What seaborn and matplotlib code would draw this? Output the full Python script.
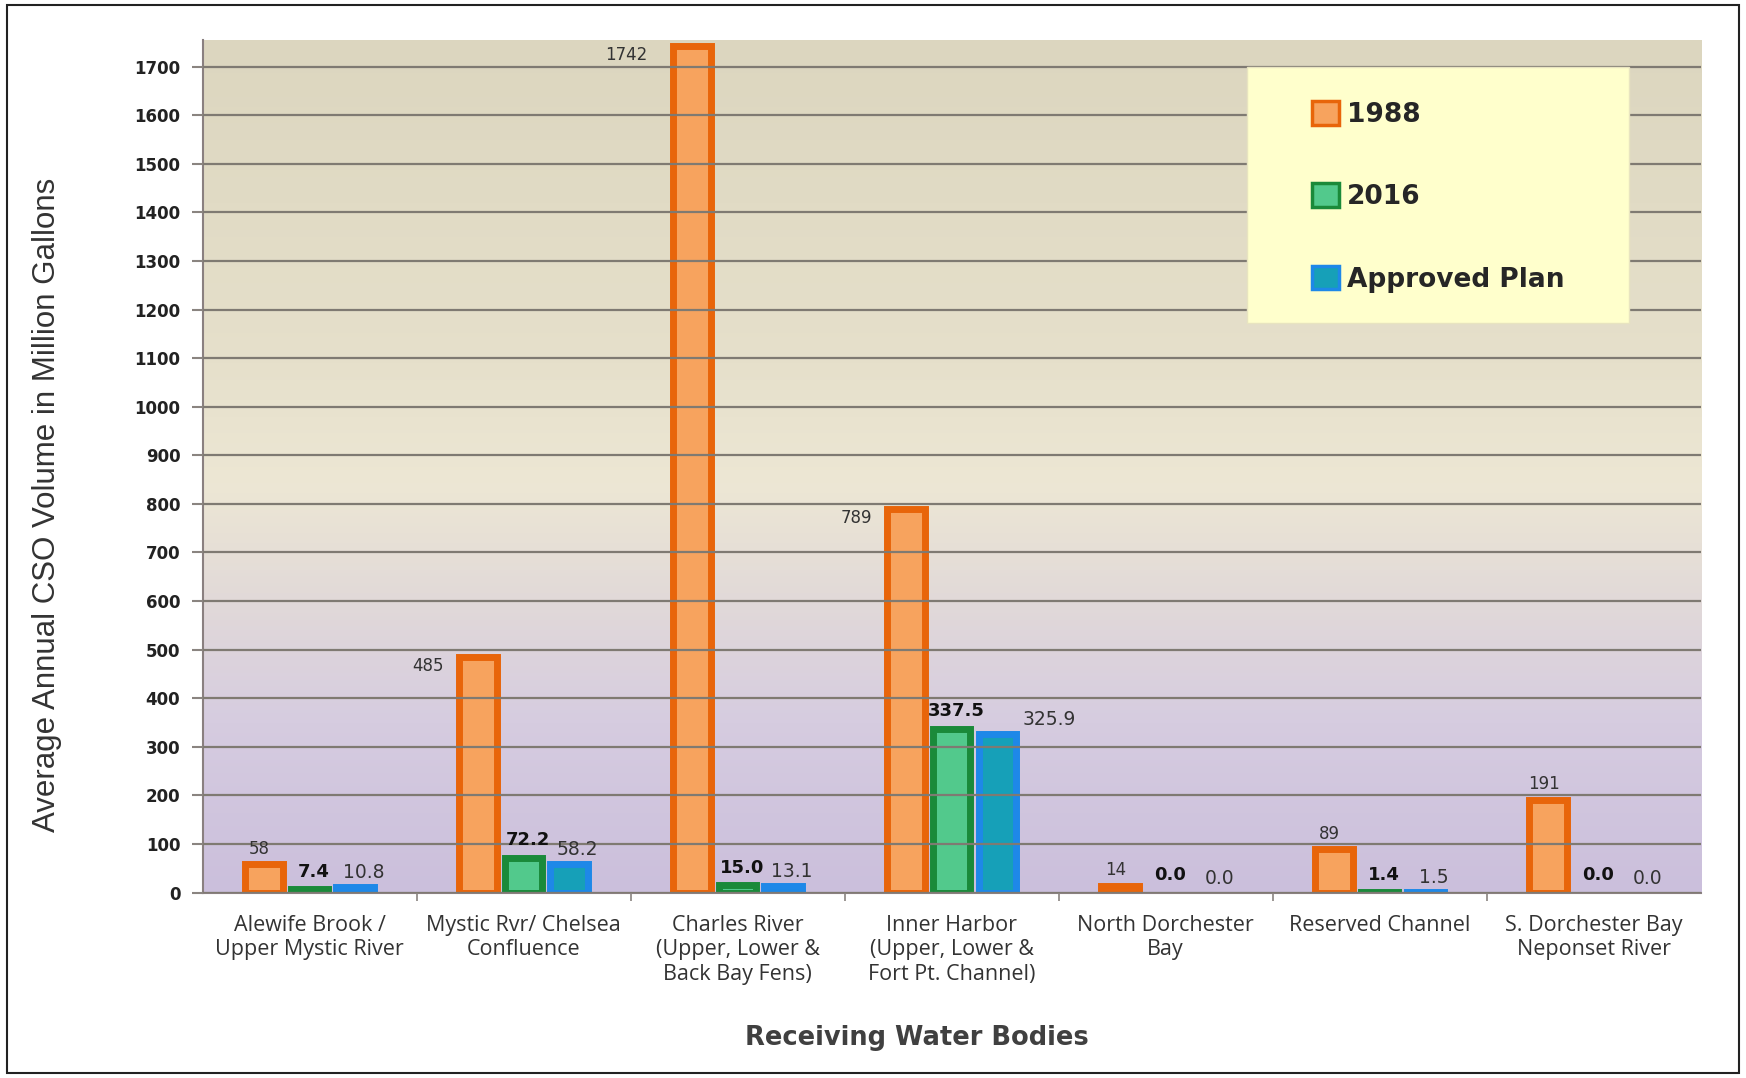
import numpy as np
import pandas as pd
import matplotlib
matplotlib.use("Agg")
import matplotlib.pyplot as plt
import seaborn as sns
from matplotlib.colors import LinearSegmentedColormap
from matplotlib.patches import Patch, Rectangle

# --- data ---
categories = [
    "Alewife Brook /\nUpper Mystic River",
    "Mystic Rvr/ Chelsea\nConfluence",
    "Charles River\n(Upper, Lower &\nBack Bay Fens)",
    "Inner Harbor\n(Upper, Lower &\nFort Pt. Channel)",
    "North Dorchester\nBay",
    "Reserved Channel",
    "S. Dorchester Bay\nNeponset River",
]
series = ["1988", "2016", "Approved Plan"]
vol_1988 = [58, 485, 1742, 789, 14, 89, 191]
vol_2016 = [7.4, 72.2, 15.0, 337.5, 0.0, 1.4, 0.0]
vol_plan = [10.8, 58.2, 13.1, 325.9, 0.0, 1.5, 0.0]
y_ticks = list(range(0, 1800, 100))

face = {"1988": "#f7a35e", "2016": "#52c98c", "Approved Plan": "#16a0b8"}
edge = {"1988": "#e8650a", "2016": "#1a8a3a", "Approved Plan": "#1e88e8"}

df = pd.DataFrame({
    "category": categories * 3,
    "series": [s for s in series for _ in categories],
    "value": vol_1988 + vol_2016 + vol_plan,
})

sns.set_theme(style="white")
plt.rcParams["font.family"] = ["DejaVu Sans"]

fig = plt.figure(figsize=(17.46, 10.78), dpi=100)
ax = fig.add_axes([0.116, 0.172, 0.858, 0.791])

sns.barplot(data=df, x="category", y="value", hue="series", hue_order=series,
            order=categories, width=0.64, gap=0.18, palette=face,
            linewidth=5, legend=False, ax=ax, zorder=2)

ax.set_xlim(-0.5, len(categories) - 0.5)
ax.set_ylim(0, 1755)

# gradient background (tan top -> cream -> lavender bottom)
bg = LinearSegmentedColormap.from_list("bg", [
    (0.0, "#cbbfdc"), (0.2, "#d6cce0"), (0.35, "#e2dad8"),
    (0.48, "#ede7d4"), (0.62, "#e6e0cb"), (1.0, "#dcd6bf")])
ax.imshow(np.linspace(0, 1, 256).reshape(-1, 1), cmap=bg, origin="lower",
          aspect="auto", extent=[-0.5, len(categories) - 0.5, 0, 1755], zorder=0)

# bar styling per series
for s, cont in zip(series, ax.containers):
    for bar in cont:
        bar.set_facecolor(face[s])
        bar.set_edgecolor(edge[s])
        if bar.get_height() == 0:
            bar.set_linewidth(0)

# value labels
for s, cont, vals in zip(series, ax.containers, [vol_1988, vol_2016, vol_plan]):
    for bar, v in zip(cont, vals):
        xc = bar.get_x() + bar.get_width() / 2
        if s == "1988":
            if v > 300:
                off = 0.12 if v > 1000 else 0.07
                ax.text(bar.get_x() - off, v, f"{v:g}", ha="right", va="top",
                        fontsize=12, color="#333333", zorder=5)
            else:
                ax.text(xc - 0.02, v + 14, f"{v:g}", ha="center", va="bottom",
                        fontsize=12, color="#333333", zorder=5)
        elif s == "2016":
            ax.text(xc + 0.02, v + 17, f"{v:.1f}", ha="center", va="bottom",
                    fontsize=13, fontweight="bold", color="#111111", zorder=5)
        else:
            if v > 100:
                ax.text(bar.get_x() + bar.get_width() + 0.03, v + 10, f"{v:.1f}",
                        ha="left", va="bottom", fontsize=13.5, color="#333333", zorder=5)
            else:
                ax.text(xc + 0.04, v + 10, f"{v:.1f}", ha="center", va="bottom",
                        fontsize=13.5, color="#333333", zorder=5)

# grid and axes
ax.set_yticks(y_ticks)
ax.yaxis.grid(True, color="#7f7a72", linewidth=1.6, zorder=1)
ax.set_axisbelow(False)
for gl in ax.get_ygridlines():
    gl.set_zorder(1)
ax.tick_params(axis="y", length=8, width=1.5, color="#8a8480", left=True,
               labelsize=12, pad=8)
for lbl in ax.get_yticklabels():
    lbl.set_fontweight("bold")
    lbl.set_color("#222222")
ax.tick_params(axis="x", length=0, pad=16)
for lbl in ax.get_xticklabels():
    lbl.set_fontfamily(["Open Sans", "DejaVu Sans"])
    lbl.set_fontsize(15.5)
    lbl.set_linespacing(1.22)
    lbl.set_color("#333333")
ax.set_xticks(np.arange(len(categories) - 1) + 0.5, minor=True)
ax.tick_params(axis="x", which="minor", length=6, width=1.2, color="#8a8480", bottom=True)

for side in ["top", "right"]:
    ax.spines[side].set_visible(False)
ax.spines["left"].set_color("#8a8080")
ax.spines["left"].set_linewidth(1.5)
ax.spines["bottom"].set_color("#8a8080")
ax.spines["bottom"].set_linewidth(1.5)

ax.set_ylabel("Average Annual CSO Volume in Million Gallons",
              fontsize=22.5, color="#333333", family=["Liberation Sans", "DejaVu Sans"])
ax.yaxis.set_label_coords(-0.104, 0.455)
ax.yaxis.label.set_va("center")
ax.set_xlabel("Receiving Water Bodies", fontsize=18.5, fontweight="bold",
              color="#404040", family=["DejaVu Sans"])
ax.xaxis.set_label_coords(0.477, -0.170)
ax.xaxis.label.set_va("center")

# legend on a pale yellow panel
ax.add_patch(Rectangle((0.697, 0.668), 0.255, 0.30, transform=ax.transAxes,
                       facecolor="#ffffcc", edgecolor="#e8e4c0", zorder=6))
handles = [Patch(facecolor=face[s], edgecolor=edge[s], linewidth=2.5, label=s)
           for s in series]
leg = ax.legend(handles=handles, loc="upper left", bbox_to_anchor=(0.725, 0.956),
                frameon=False, handlelength=1.0, handleheight=1.0, handletextpad=0.3,
                labelspacing=2.1, prop={"family": "DejaVu Sans", "weight": "bold",
                                        "size": 19})
leg.set_zorder(7)

# outer frame
fig.patches.append(Rectangle((0.004, 0.005), 0.992, 0.990, transform=fig.transFigure,
                             fill=False, edgecolor="#222222", linewidth=1.5))

fig.savefig("out.png", dpi=100, facecolor="white")
